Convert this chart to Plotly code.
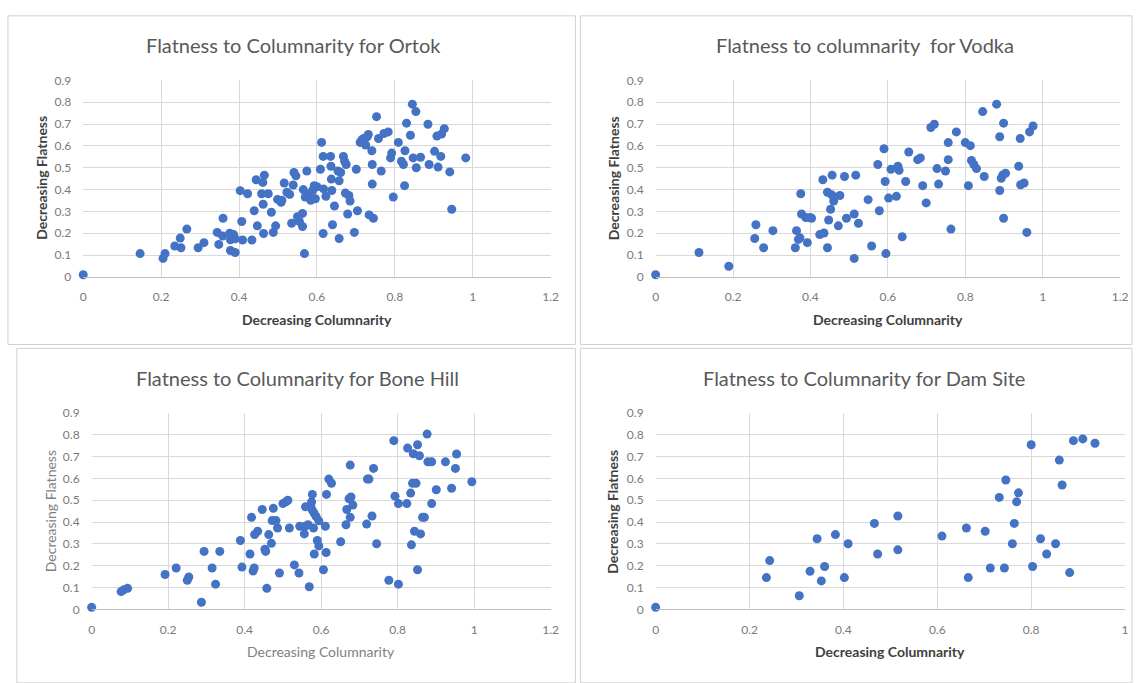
import plotly.graph_objects as go

W, H = 1138, 683

# ---------------- data ----------------
ortok_x = [0, 0.146, 0.205, 0.21, 0.235, 0.249, 0.251, 0.266, 0.295, 0.31, 0.344, 0.348, 0.359, 0.358,
           0.376, 0.378, 0.381, 0.386, 0.39, 0.378, 0.39, 0.403, 0.407, 0.422, 0.409, 0.433, 0.439, 0.444,
           0.447, 0.465, 0.461, 0.458, 0.462, 0.463, 0.475, 0.483, 0.488, 0.494, 0.499, 0.508, 0.51, 0.516,
           0.523, 0.53, 0.535, 0.539, 0.541, 0.546, 0.55, 0.555, 0.563, 0.563, 0.568, 0.565, 0.57, 0.574,
           0.579, 0.584, 0.589, 0.593, 0.596, 0.6, 0.609, 0.612, 0.616, 0.617, 0.616, 0.623, 0.635, 0.636,
           0.637, 0.638, 0.64, 0.645, 0.654, 0.657, 0.657, 0.661, 0.668, 0.671, 0.675, 0.673, 0.682, 0.679,
           0.685, 0.696, 0.701, 0.704, 0.711, 0.715, 0.72, 0.725, 0.729, 0.732, 0.734, 0.741, 0.742, 0.742,
           0.745, 0.753, 0.758, 0.765, 0.772, 0.783, 0.789, 0.792, 0.796, 0.809, 0.817, 0.822, 0.825, 0.826,
           0.83, 0.84, 0.845, 0.847, 0.854, 0.855, 0.866, 0.885, 0.888, 0.902, 0.908, 0.911, 0.918, 0.92,
           0.927, 0.941, 0.946, 0.982]
ortok_y = [0.01, 0.107, 0.085, 0.107, 0.142, 0.178, 0.134, 0.219, 0.134, 0.157, 0.204, 0.149, 0.269, 0.187,
           0.2, 0.17, 0.186, 0.194, 0.175, 0.121, 0.112, 0.395, 0.254, 0.381, 0.169, 0.169, 0.303, 0.445,
           0.234, 0.466, 0.433, 0.381, 0.333, 0.199, 0.381, 0.296, 0.204, 0.234, 0.355, 0.342, 0.351, 0.43,
           0.388, 0.378, 0.246, 0.421, 0.478, 0.463, 0.276, 0.254, 0.231, 0.291, 0.107, 0.4, 0.366, 0.485,
           0.381, 0.351, 0.396, 0.418, 0.358, 0.413, 0.493, 0.616, 0.552, 0.403, 0.199, 0.369, 0.552, 0.507,
           0.448, 0.396, 0.239, 0.325, 0.485, 0.44, 0.176, 0.478, 0.552, 0.53, 0.515, 0.384, 0.373, 0.288,
           0.348, 0.204, 0.493, 0.303, 0.616, 0.627, 0.634, 0.604, 0.642, 0.652, 0.284, 0.578, 0.515, 0.425,
           0.269, 0.734, 0.634, 0.485, 0.657, 0.664, 0.545, 0.567, 0.366, 0.616, 0.53, 0.515, 0.418, 0.578,
           0.704, 0.649, 0.791, 0.545, 0.757, 0.5, 0.548, 0.699, 0.515, 0.575, 0.645, 0.503, 0.552, 0.654,
           0.679, 0.481, 0.31, 0.545]

vodka_x = [0, 0.112, 0.189, 0.256, 0.259, 0.279, 0.303, 0.361, 0.364, 0.369, 0.373, 0.375, 0.377, 0.388,
           0.392, 0.399, 0.403, 0.424, 0.432, 0.435, 0.444, 0.444, 0.447, 0.452, 0.455, 0.456, 0.46, 0.472,
           0.476, 0.488, 0.493, 0.513, 0.513, 0.517, 0.524, 0.549, 0.558, 0.574, 0.578, 0.59, 0.593, 0.595,
           0.602, 0.608, 0.622, 0.626, 0.629, 0.637, 0.646, 0.654, 0.677, 0.684, 0.69, 0.699, 0.711, 0.72,
           0.727, 0.731, 0.749, 0.756, 0.756, 0.763, 0.777, 0.8, 0.808, 0.813, 0.816, 0.822, 0.829, 0.845,
           0.849, 0.881, 0.889, 0.889, 0.893, 0.897, 0.899, 0.899, 0.904, 0.938, 0.942, 0.943, 0.952, 0.959,
           0.966, 0.975]
vodka_y = [0.01, 0.112, 0.049, 0.176, 0.239, 0.134, 0.212, 0.134, 0.212, 0.172, 0.179, 0.381, 0.288, 0.272,
           0.157, 0.272, 0.269, 0.194, 0.445, 0.201, 0.388, 0.134, 0.261, 0.31, 0.376, 0.466, 0.348, 0.234,
           0.373, 0.46, 0.269, 0.288, 0.085, 0.466, 0.246, 0.354, 0.142, 0.515, 0.303, 0.587, 0.437, 0.107,
           0.361, 0.493, 0.369, 0.507, 0.488, 0.184, 0.437, 0.572, 0.537, 0.545, 0.418, 0.339, 0.684, 0.699,
           0.496, 0.425, 0.485, 0.537, 0.615, 0.219, 0.664, 0.615, 0.418, 0.601, 0.533, 0.515, 0.496, 0.757,
           0.46, 0.791, 0.642, 0.396, 0.452, 0.467, 0.704, 0.269, 0.475, 0.507, 0.634, 0.422, 0.43, 0.204,
           0.664, 0.691]

bone_x = [0, 0.077, 0.084, 0.094, 0.192, 0.221, 0.25, 0.254, 0.287, 0.294, 0.315, 0.324, 0.335, 0.389,
          0.393, 0.414, 0.418, 0.422, 0.425, 0.426, 0.434, 0.446, 0.453, 0.455, 0.458, 0.463, 0.47, 0.472,
          0.475, 0.482, 0.486, 0.491, 0.5, 0.508, 0.513, 0.517, 0.53, 0.542, 0.544, 0.556, 0.558, 0.559,
          0.566, 0.569, 0.573, 0.575, 0.577, 0.577, 0.58, 0.582, 0.582, 0.587, 0.59, 0.594, 0.594, 0.606,
          0.611, 0.613, 0.614, 0.62, 0.627, 0.651, 0.665, 0.667, 0.673, 0.676, 0.676, 0.678, 0.683, 0.719,
          0.721, 0.725, 0.733, 0.737, 0.745, 0.777, 0.79, 0.793, 0.802, 0.802, 0.824, 0.826, 0.834, 0.836,
          0.839, 0.841, 0.844, 0.848, 0.852, 0.852, 0.857, 0.86, 0.865, 0.87, 0.877, 0.879, 0.889, 0.889,
          0.901, 0.925, 0.941, 0.951, 0.954, 0.994]
bone_y = [0.01, 0.082, 0.09, 0.097, 0.16, 0.19, 0.134, 0.149, 0.033, 0.266, 0.19, 0.116, 0.266, 0.316,
          0.194, 0.254, 0.422, 0.176, 0.19, 0.343, 0.358, 0.458, 0.276, 0.266, 0.097, 0.343, 0.303, 0.407,
          0.463, 0.407, 0.373, 0.167, 0.485, 0.493, 0.5, 0.373, 0.204, 0.167, 0.381, 0.346, 0.381, 0.47,
          0.388, 0.104, 0.478, 0.493, 0.527, 0.455, 0.373, 0.254, 0.44, 0.425, 0.316, 0.291, 0.406, 0.182,
          0.381, 0.261, 0.527, 0.597, 0.578, 0.31, 0.388, 0.458, 0.507, 0.661, 0.422, 0.515, 0.478, 0.391,
          0.597, 0.597, 0.428, 0.646, 0.301, 0.134, 0.773, 0.519, 0.485, 0.116, 0.485, 0.739, 0.533, 0.296,
          0.578, 0.713, 0.358, 0.578, 0.754, 0.182, 0.704, 0.346, 0.422, 0.422, 0.803, 0.676, 0.676, 0.485,
          0.548, 0.676, 0.555, 0.646, 0.712, 0.585]

dam_x = [0, 0.236, 0.243, 0.306, 0.329, 0.344, 0.353, 0.36, 0.383, 0.402, 0.41, 0.466, 0.473, 0.516,
         0.516, 0.61, 0.662, 0.666, 0.702, 0.713, 0.732, 0.743, 0.746, 0.76, 0.764, 0.769, 0.773, 0.8,
         0.803, 0.82, 0.833, 0.852, 0.86, 0.866, 0.882, 0.89, 0.91, 0.936]
dam_y = [0.01, 0.146, 0.224, 0.063, 0.175, 0.324, 0.131, 0.197, 0.343, 0.146, 0.301, 0.394, 0.254, 0.428,
         0.273, 0.336, 0.373, 0.146, 0.358, 0.19, 0.513, 0.19, 0.593, 0.301, 0.394, 0.493, 0.534, 0.754,
         0.197, 0.324, 0.254, 0.301, 0.684, 0.57, 0.169, 0.773, 0.781, 0.761]

titles = ["Flatness to Columnarity for Ortok", "Flatness to columnarity  for Vodka",
          "Flatness to Columnarity for Bone Hill", "Flatness to Columnarity for Dam Site"]
x_title = "Decreasing Columnarity"
y_title = "Decreasing Flatness"
x_max = [1.2, 1.2, 1.2, 1.0]
y_ticks = [0, 0.1, 0.2, 0.3, 0.4, 0.5, 0.6, 0.7, 0.8, 0.9]

datasets = [(ortok_x, ortok_y), (vodka_x, vodka_y), (bone_x, bone_y), (dam_x, dam_y)]

# ---------------- layout geometry (pixels) ----------------
# plot areas: (left, right, top, bottom)
areas = [(81, 553, 74, 275), (659, 1128, 74, 275), (89.5, 553, 414, 615), (659, 1133, 414, 615)]
title_pos = [(293, 38), (870, 38), (297, 378), (869, 378)]
xtitle_pos = [(317, 318), (894, 318), (321, 658), (896, 658)]
ytitle_pos = [(39, 174), (616, 174), (48, 515), (616, 515)]
bold_axis_titles = [True, True, False, True]
boxes = [(5, 578, 8, 344), (583, 1140, 8, 344), (14, 578, 348, 690), (583, 1140, 348, 690)]

FONT = "Lato, 'Open Sans', sans-serif"
BLUE = "#4472C4"

def px(x):
    return x / W

def py(y):
    return 1 - y / H

fig = go.Figure()
layout = dict(
    width=W, height=H, margin=dict(l=0, r=0, t=0, b=0),
    paper_bgcolor="white", plot_bgcolor="white", showlegend=False,
    font=dict(family=FONT, color="#595959"),
)
annotations = []
shapes = []

for i, ((xs, ys), (l, r, t, b)) in enumerate(zip(datasets, areas)):
    n = "" if i == 0 else str(i + 1)
    fig.add_trace(go.Scatter(
        x=xs, y=ys, mode="markers", xaxis="x" + n, yaxis="y" + n,
        marker=dict(size=9, color=BLUE, line=dict(width=0)), cliponaxis=False,
        hoverinfo="x+y",
    ))
    layout["xaxis" + n] = dict(
        domain=[px(l), px(r)], anchor="y" + n, range=[0, x_max[i]], dtick=0.2, tick0=0,
        showgrid=True, gridcolor="#d9d9d9", gridwidth=1, zeroline=False,
        showline=True, linecolor="#bfbfbf", linewidth=1,
        ticks="", ticklabelstandoff=9,
        tickfont=dict(size=12, color="#7a7a7a", family=FONT), fixedrange=True,
    )
    layout["yaxis" + n] = dict(
        domain=[py(b), py(t)], anchor="x" + n, range=[0, 0.9], tickvals=y_ticks,
        showgrid=True, gridcolor="#d9d9d9", gridwidth=1, zeroline=False,
        showline=False, ticks="", ticklabelstandoff=11,
        tickfont=dict(size=12, color="#7a7a7a", family=FONT), fixedrange=True,
    )
    # chart title
    annotations.append(dict(
        text=titles[i], x=px(title_pos[i][0]), y=py(title_pos[i][1]), xref="paper", yref="paper",
        showarrow=False, xanchor="center", yanchor="middle",
        font=dict(size=20, color="#595959", family=FONT),
    ))
    bold = bold_axis_titles[i]
    tcol = "#404040" if bold else "#7f7f7f"
    xt = "<b>%s</b>" % x_title if bold else x_title
    yt = "<b>%s</b>" % y_title if bold else y_title
    annotations.append(dict(
        text=xt, x=px(xtitle_pos[i][0]), y=py(xtitle_pos[i][1]), xref="paper", yref="paper",
        showarrow=False, xanchor="center", yanchor="middle",
        font=dict(size=14, color=tcol, family=FONT),
    ))
    annotations.append(dict(
        text=yt, x=px(ytitle_pos[i][0]), y=py(ytitle_pos[i][1]), xref="paper", yref="paper",
        showarrow=False, xanchor="center", yanchor="middle", textangle=-90,
        font=dict(size=14, color=tcol, family=FONT),
    ))
    bx0, bx1, by0, by1 = boxes[i]
    shapes.append(dict(
        type="rect", xref="paper", yref="paper", x0=px(bx0), x1=px(bx1), y0=py(by1), y1=py(by0),
        line=dict(color="#d0d0d0", width=1), fillcolor="rgba(0,0,0,0)", layer="below",
    ))

layout["annotations"] = annotations
layout["shapes"] = shapes
fig.update_layout(**layout)
fig.write_html("out.html")
